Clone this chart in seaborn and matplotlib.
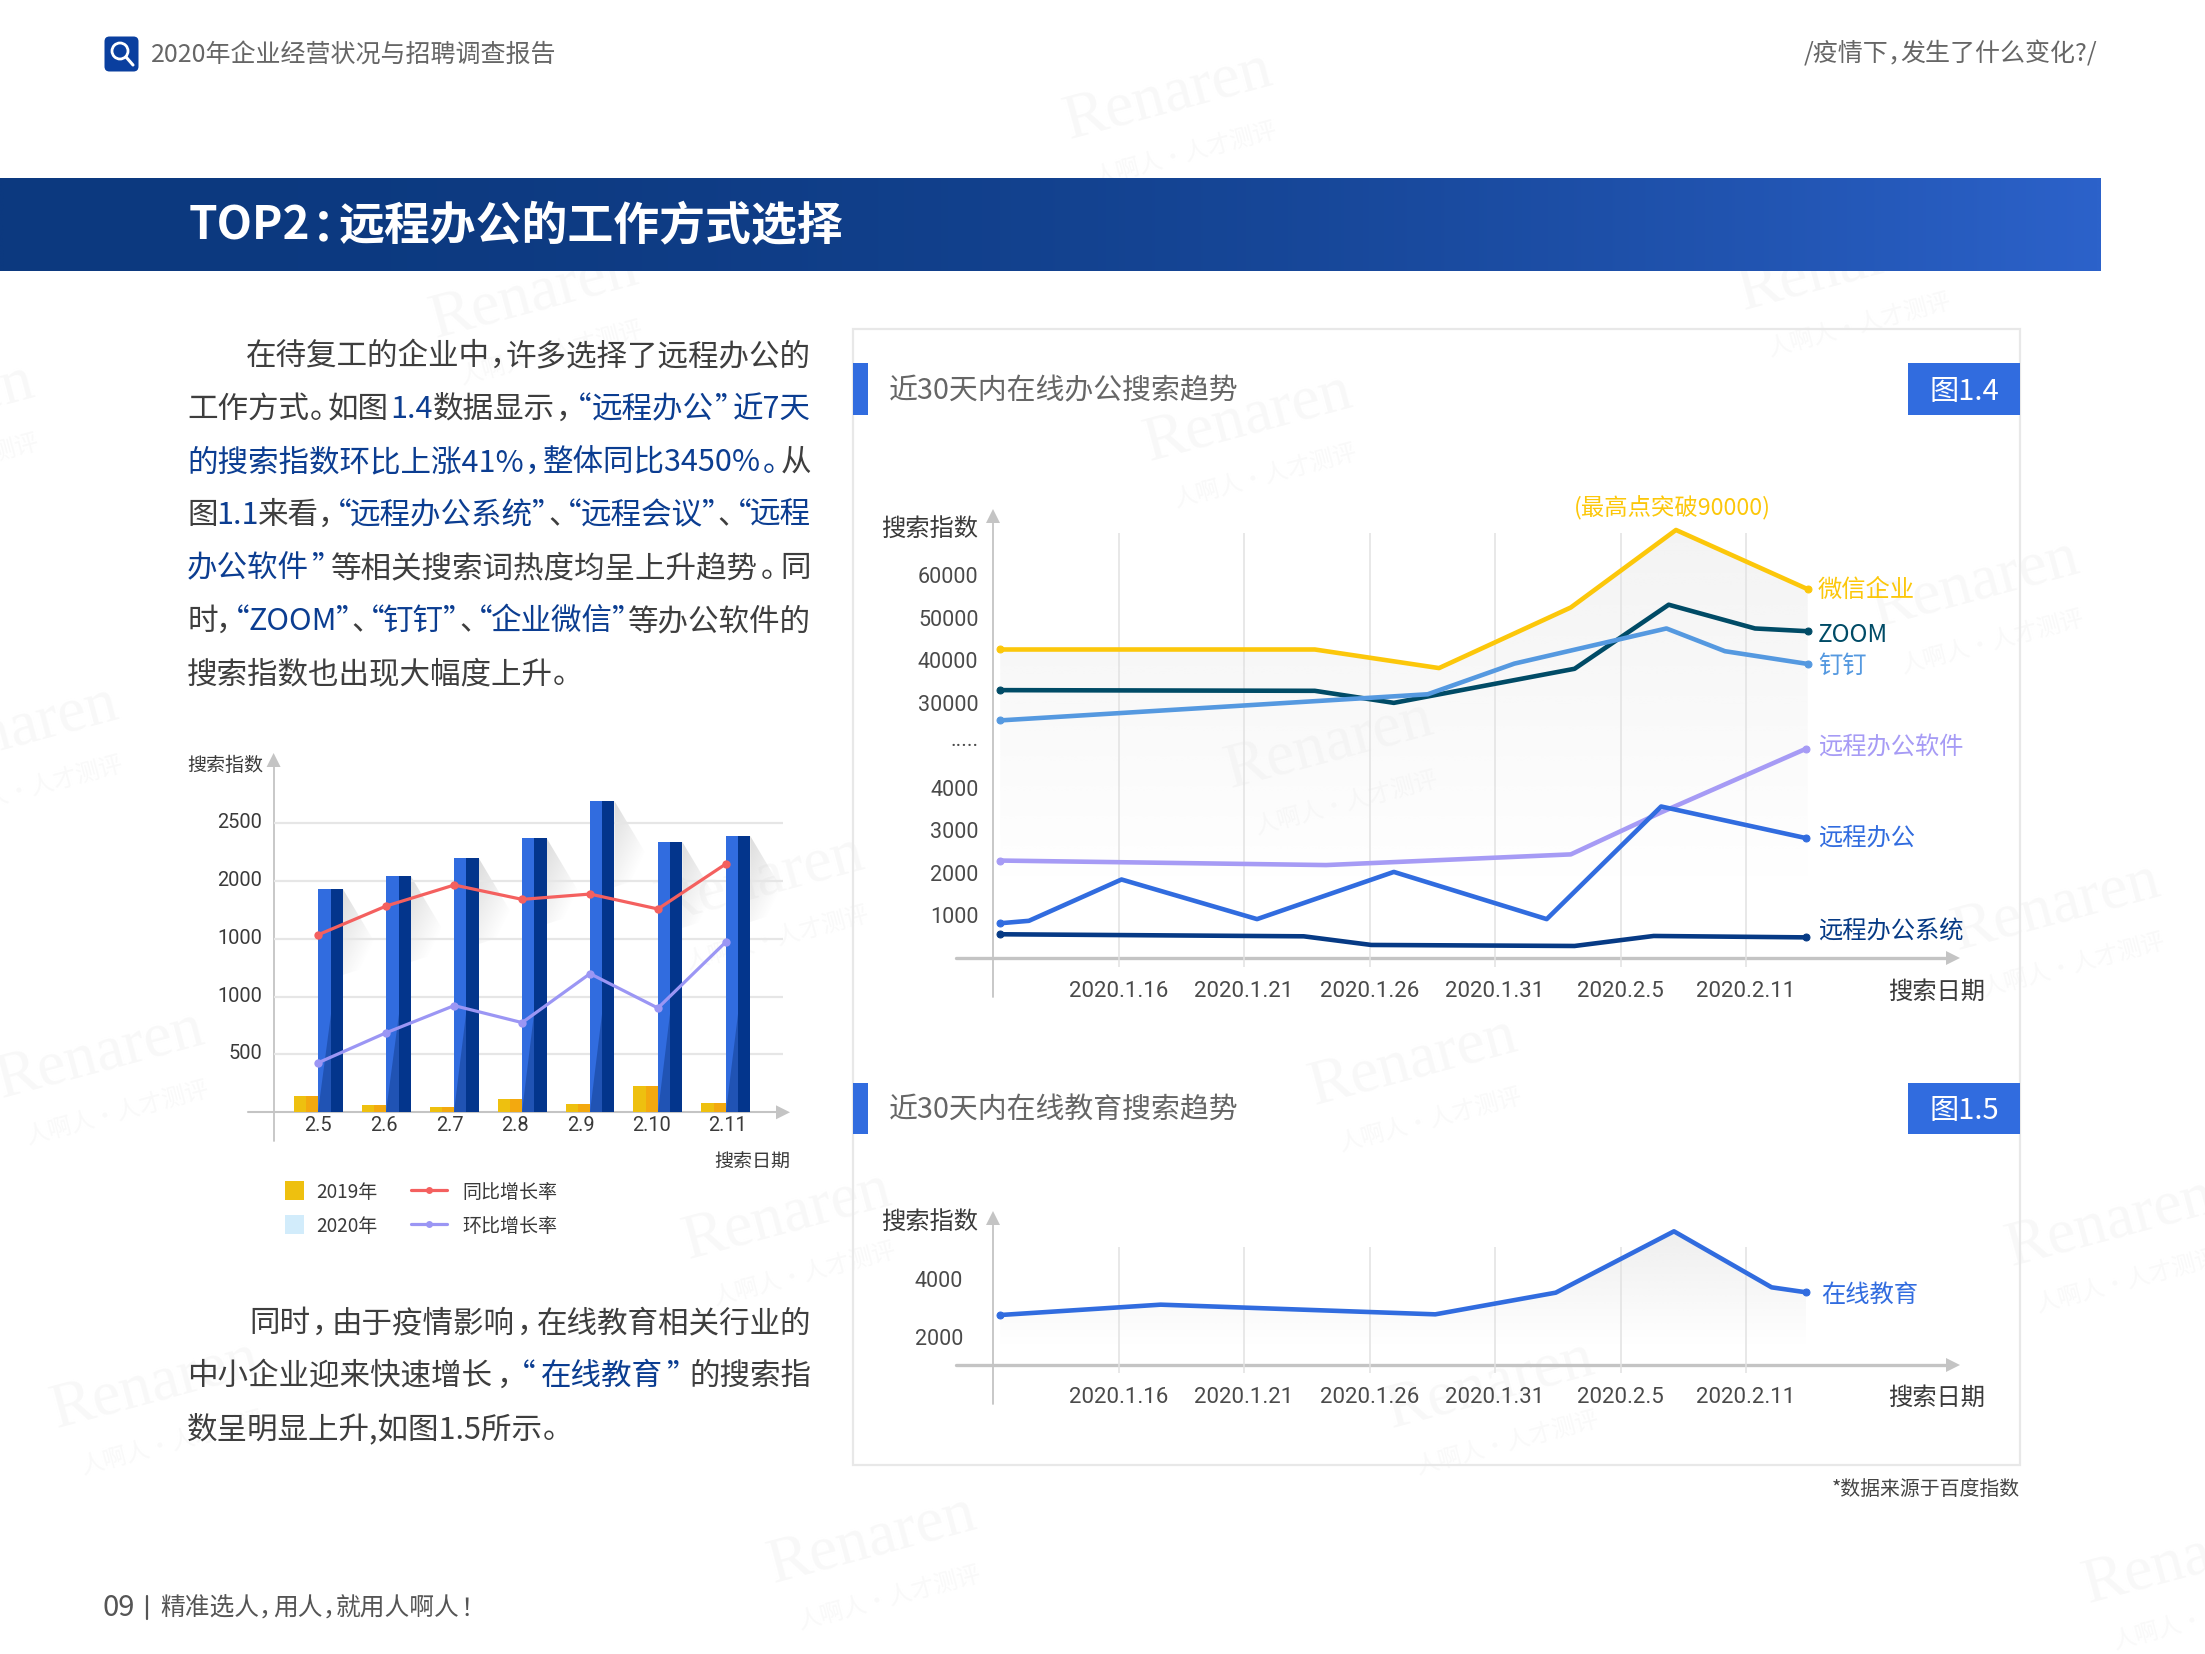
import re
import numpy as np
import pandas as pd
import matplotlib
matplotlib.use("Agg")
import matplotlib.pyplot as plt
from matplotlib.patches import Rectangle, Polygon, Circle, FancyBboxPatch
from matplotlib.colors import to_rgb
from matplotlib.transforms import ScaledTranslation
import seaborn as sns

sns.set_theme(style="white")
plt.rcParams['font.family'] = ['Noto Sans CJK SC', 'DejaVu Sans']
plt.rcParams['axes.unicode_minus'] = False

# ---------- data ----------
bar_dates = ["2.5", "2.6", "2.7", "2.8", "2.9", "2.10", "2.11"]
bar_2019 = [141, 63, 46, 115, 72, 227, 81]
bar_2020 = [1930, 2042, 2197, 2370, 2690, 2336, 2388]
yoy_line = [1535, 1783, 1964, 1840, 1886, 1757, 2146]
mom_line = [429, 688, 922, 775, 1198, 901, 1472]
bar_yticks = [500, 1000, 1500, 2000, 2500]
bar_ylabels = ["500", "1000", "1000", "2000", "2500"]
bar_xtick_pos = [0, 0.97, 1.94, 2.90, 3.86, 4.91, 6.02]

trend_ticks = [16, 21, 26, 31, 36, 41]
trend_labels = ["2020.1.16", "2020.1.21", "2020.1.26", "2020.1.31", "2020.2.5", "2020.2.11"]

wechat_x = [11.29, 23.82, 28.77, 34.02, 38.21, 43.46]
wechat_y = [42490, 42490, 38120, 52360, 70570, 56650]
zoom_x = [11.29, 23.82, 26.97, 34.17, 37.92, 41.36, 43.46]
zoom_y = [32940, 32780, 29935, 37960, 53010, 47430, 46780]
ding_x = [11.29, 28.32, 31.77, 37.83, 40.16, 43.46]
ding_y = [24580, 31970, 39170, 47430, 42090, 39090]
soft_x = [11.29, 24.27, 34.02, 37.62, 43.40]
soft_y = [2290, 2184, 2435, 3422, 15950]
remote_x = [11.29, 12.43, 16.12, 21.52, 26.97, 33.06, 37.62, 43.40]
remote_y = [817, 874, 1845, 914, 2023, 914, 3560, 2816]
system_x = [11.29, 23.38, 26.07, 34.17, 37.32, 43.40]
system_y = [558, 510, 307, 283, 518, 485]
office_yticks = [1000, 2000, 3000, 4000, 17000, 30000, 40000, 50000, 60000]
office_ylabels = ["1000", "2000", "3000", "4000", ".....", "30000", "40000", "50000", "60000"]

edu_x = [11.29, 17.68, 28.62, 33.42, 38.13, 42.02, 43.40]
edu_y = [2761, 3114, 2784, 3523, 5614, 3705, 3534]
edu_yticks = [2000, 4000]

scale_vals = [0, 4000, 30000, 60000, 90000]
scale_pos = [0, 4, 6, 9, 12]

para1 = [
    [("在待复工的企业中，许多选择了远程办公的", "k")],
    [("工作方式。如图", "k"), ("1.4", "b"), ("数据显示，", "k"), ("“远程办公”近7天", "b")],
    [("的搜索指数环比上涨41%，整体同比3450%。", "b"), ("从", "k")],
    [("图", "k"), ("1.1", "b"), ("来看，", "k"), ("“远程办公系统”", "b"), ("、", "k"), ("“远程会议”", "b"), ("、", "k"), ("“远程", "b")],
    [("办公软件”", "b"), ("等相关搜索词热度均呈上升趋势。同", "k")],
    [("时，", "k"), ("“ZOOM”", "b"), ("、", "k"), ("“钉钉”", "b"), ("、", "k"), ("“企业微信”", "b"), ("等办公软件的", "k")],
    [("搜索指数也出现大幅度上升。", "k")],
]
para2 = [
    [("同时，由于疫情影响，在线教育相关行业的", "k")],
    [("中小企业迎来快速增长，", "k"), ("“在线教育”", "b"), ("的搜索指", "k")],
    [("数呈明显上升,如图1.5所示。", "k")],
]

# ---------- page ----------
W, H = 2205, 1654
fig = plt.figure(figsize=(W / 100, H / 100), dpi=100, facecolor="white")
page = fig.add_axes([0, 0, 1, 1], zorder=0)
page.set_xlim(0, W)
page.set_ylim(H, 0)
page.axis("off")
renderer = fig.canvas.get_renderer()

GREY = "#4a4a4a"
BLUE = "#316cdf"
NAVY = "#0b3d91"
AXC = "#c4c4c4"
NUM = "Roboto"


def panel_axes(x0, x1, y0, y1):
    a = fig.add_axes([x0 / W, 1 - y1 / H, (x1 - x0) / W, (y1 - y0) / H], zorder=2)
    a.patch.set_alpha(0)
    return a


def gradient(x0, x1, y0, y1, rgba, clip=None, zorder=1):
    im = page.imshow(rgba, extent=(x0, x1, y1, y0), aspect="auto", zorder=zorder,
                     interpolation="bilinear")
    if clip is not None:
        im.set_clip_path(Polygon(clip, closed=True, transform=page.transData))
    page.set_xlim(0, W)
    page.set_ylim(H, 0)
    return im


def vfade(color, a0, n=128):
    r, g, b = to_rgb(color)
    arr = np.ones((n, 2, 4))
    arr[..., 0], arr[..., 1], arr[..., 2] = r, g, b
    arr[..., 3] = np.linspace(a0, 0, n)[:, None]
    return arr


def txt(x, y, s, size, color=GREY, ha="left", va="center", **kw):
    return page.text(x, y + 2.5, s, fontsize=size, color=color, ha=ha, va=va, zorder=6, **kw)


def nudge(label, dy_px):
    label.set_transform(label.get_transform() + ScaledTranslation(0, dy_px / 100, fig.dpi_scale_trans))


NARROW = "，。、：“”！"


def run_line(x, base, runs, size, right=None, weight="normal", colors=None):
    """Draw one text line from coloured runs with compact CJK punctuation."""
    em = size / 0.72
    pieces = []
    for s, c in runs:
        for p in re.findall(f"[{NARROW}]|[^{NARROW}]+", s):
            pieces.append((p, c))
    prop = matplotlib.font_manager.FontProperties(family=plt.rcParams['font.family'],
                                                  size=size, weight=weight)
    widths = []
    for p, c in pieces:
        if p in NARROW:
            widths.append(0.56 * em)
        else:
            widths.append(renderer.get_text_width_height_descent(p, prop, False)[0])
    gap = 0
    if right is not None and len(pieces) > 1:
        gap = (right - x - sum(widths)) / (len(pieces) - 1)
    cx = x
    for (p, c), w in zip(pieces, widths):
        off = -0.44 * em if p == "“" else 0
        col = colors[c] if colors else c
        page.text(cx + off, base, p, fontsize=size, color=col, ha="left", va="baseline",
                  weight=weight, zorder=6)
        cx += w + gap


def arrows(xa, ytop, ybot, xl, xr, yb, lw_x, head=7):
    page.plot([xa, xa], [ytop + 10, ybot], color=AXC, lw=1.3, zorder=1.5)
    page.add_patch(Polygon([(xa - head, ytop + 14), (xa + head, ytop + 14), (xa, ytop)],
                           color=AXC, lw=0, zorder=1.5))
    page.plot([xl, xr], [yb, yb], color=AXC, lw=lw_x, zorder=1.5)
    page.add_patch(Polygon([(xr, yb - head), (xr, yb + head), (xr + 14, yb)],
                           color=AXC, lw=0, zorder=1.5))


# watermarks
wm_centres = [(1168, 96), (1248, 418), (1975, 584), (1329, 745), (2056, 907), (1413, 1062),
              (787, 1216), (2110, 1223), (155, 1385), (1490, 1385), (872, 1540), (2187, 1560),
              (100, 1055), (14, 730), (760, 880), (-70, 408), (534, 295), (1842, 267)]
for cx, cy in wm_centres:
    page.text(cx, cy, "Renaren", fontsize=46, family="Liberation Serif", color="#f8f8f8",
              rotation=15, ha="center", va="center", zorder=0.5)
    page.text(cx + 18, cy + 58, "人啊人·人才测评", fontsize=17, color="#f9f9f9",
              rotation=15, ha="center", va="center", zorder=0.5)

# header
page.add_patch(FancyBboxPatch((107, 39), 29, 30, boxstyle="round,pad=2.5,rounding_size=5",
                              fc="#0a3f9f", ec="none", zorder=3))
page.add_patch(Circle((120, 51), 8, fc="none", ec="white", lw=2, zorder=4))
page.plot([126, 133], [57, 65], color="white", lw=2.2, zorder=4)
txt(151, 52, "2020年企业经营状况与招聘调查报告", 18, "#666666")
run_line(1804, 61, [("/疫情下，发生了什么变化?/", "#666666")], 18, right=2097)

# banner
c0, c1 = np.array(to_rgb("#0c397f")), np.array(to_rgb("#2c62ca"))
ramp = np.linspace(0, 1, 256)[None, :, None] ** 2.2
gradient(0, 2101, 178, 270.7, c0 + (c1 - c0) * ramp, zorder=1)
run_line(189, 240, [("TOP2：远程办公的工作方式选择", "white")], 33, right=843, weight="bold")

# body text
body_colors = {"k": "#3e3e3e", "b": NAVY}
body_size = 22
for i, (base, line) in enumerate(zip([365, 418, 471, 524, 577, 630, 683], para1)):
    run_line(246 if i == 0 else 187, base, line, body_size,
             right=811 if i < 6 else None, colors=body_colors)
for i, (base, line) in enumerate(zip([1332, 1385, 1438], para2)):
    run_line(249 if i == 0 else 187, base, line, body_size,
             right=811 if i < 2 else None, colors=body_colors)

# footer
txt(103, 1606, "09", 21, "#555555")
page.plot([147, 147], [1596, 1619], color="#555555", lw=1.6, zorder=6)
run_line(160, 1616, [("精准选人，用人，就用人啊人！", "#555555")], 17.8)

# ---------- bar chart ----------
arrows(273.6, 753, 1141, 248, 776, 1112.3, 1.5)
bx = panel_axes(273.6, 782.8, 790, 1112.3)
df_bar = pd.DataFrame({
    "date": bar_dates * 2,
    "value": bar_2019 + bar_2020,
    "year": ["2019"] * len(bar_dates) + ["2020"] * len(bar_dates),
})
sns.barplot(data=df_bar, x="date", y="value", hue="year", hue_order=["2019", "2020"],
            palette={"2019": "#eec00f", "2020": BLUE}, width=0.72, gap=0, dodge=True,
            errorbar=None, legend=False, saturation=1, edgecolor="none", linewidth=0,
            ax=bx, zorder=3)
px_per_unit = 289.3 / 2500
bx.set_ylim(0, (1112.3 - 790) / px_per_unit)
bx.set_xlim(-0.66, -0.66 + (782.8 - 273.6) / 67.9)
bx.set_yticks(bar_yticks, bar_ylabels, family=NUM, fontsize=14.4, color="#3a3a3a")
bx.set_xticks(bar_xtick_pos, bar_dates, family=NUM, fontsize=14.4, color="#3a3a3a")
bx.tick_params(axis="y", length=0, pad=8.4)
bx.tick_params(axis="x", length=0, pad=3)
bx.set_xlabel("")
bx.set_ylabel("")
bx.grid(axis="y", color="#e6e6e6", lw=1.6)
bx.set_axisbelow(True)
sns.despine(ax=bx, left=True, bottom=True)
for lab in bx.get_yticklabels():
    nudge(lab, 2.5)
fig.canvas.draw()

WEDGE_TOP = 850  # height of the shaded wedge on each bar
for dark, cont in (("#f3a90f", bx.containers[0]), ("#03358c", bx.containers[1])):
    for bar in cont:
        x0, w, h = bar.get_x(), bar.get_width(), bar.get_height()
        bx.add_patch(Rectangle((x0 + w / 2, 0), w / 2, h, fc=dark, ec="none", zorder=3.1))
        if cont is bx.containers[1]:
            bx.add_patch(Polygon([(x0, 0), (x0 + w / 2, 0), (x0 + w / 2, WEDGE_TOP)],
                                 closed=True, fc="#2053b4", ec="none", zorder=3.2))
            tl = page.transData.inverted().transform(bx.transData.transform((x0 + w, h)))
            xr, yt = tl
            verts = [(xr, yt), (xr + 31, yt + 52), (xr + 31, yt + 76), (xr, yt + 86)]
            n = 64
            yy, xx = np.mgrid[0:1:n * 1j, 0:1:n * 1j]
            rgba = np.ones((n, n, 4))
            rgba[..., :3] = 0.62
            rgba[..., 3] = 0.36 * np.clip(1 - (0.75 * yy + 0.6 * xx), 0, 1)
            gradient(xr, xr + 34, yt, yt + 88, rgba, clip=verts, zorder=1.2)

xs = np.arange(len(bar_dates))
sns.lineplot(x=xs, y=yoy_line, color="#f4605f", lw=2.3, marker="o", ms=6, mec="none",
             estimator=None, sort=False, legend=False, ax=bx, zorder=5)
sns.lineplot(x=xs, y=mom_line, color="#9b96f4", lw=2.3, marker="o", ms=6, mec="none",
             estimator=None, sort=False, legend=False, ax=bx, zorder=5)
bx.set_xlabel("")
bx.set_ylabel("")

txt(187, 763, "搜索指数", 13.7, "#3a3a3a")
txt(714, 1160, "搜索日期", 13.7, "#3a3a3a")
page.add_patch(Rectangle((285, 1181), 19, 19, fc="#eec00f", ec="none", zorder=3))
page.add_patch(Rectangle((285, 1215), 19, 19, fc="#d2ecfb", ec="none", zorder=3))
txt(316, 1190, "2019年", 13.7, "#3a3a3a")
txt(316, 1224, "2020年", 13.7, "#3a3a3a")
for yy, col, lab in ((1190, "#f4605f", "同比增长率"), (1224, "#9b96f4", "环比增长率")):
    page.plot([411, 447], [yy, yy], color=col, lw=2.3, zorder=3)
    page.plot([429], [yy], "o", color=col, ms=5, mec="none", zorder=3)
    txt(462, yy, lab, 13.7, "#3a3a3a")

# ---------- right panel frame ----------
page.add_patch(Rectangle((853, 329), 1167, 1136, fc="none", ec="#e8e8e8", lw=1.6, zorder=1))
for (y0, y1), title, tag in (((363, 415), "近30天内在线办公搜索趋势", "图1.4"),
                             ((1083, 1134), "近30天内在线教育搜索趋势", "图1.5")):
    page.add_patch(Rectangle((853, y0), 15, y1 - y0, fc=BLUE, ec="none", zorder=2))
    page.add_patch(Rectangle((1908, y0), 112, y1 - y0, fc=BLUE, ec="none", zorder=2))
    txt(888.5, (y0 + y1) / 2, title, 20.8, "#666666")
    txt(1964, (y0 + y1) / 2, tag, 21, "white", ha="center")


def fwd(v):
    v = np.asarray(v, dtype=float)
    return np.where(v < 0, v / 1000, np.interp(v, scale_vals, scale_pos))


def inv(p):
    p = np.asarray(p, dtype=float)
    return np.where(p < 0, p * 1000, np.interp(p, scale_pos, scale_vals))


DAY_PER_PX = 5 / 125.5


def style_trend(ax, pad):
    ax.set_xlim(11, 11 + (ax.get_position().width * W) * DAY_PER_PX)
    ax.set_xticks(trend_ticks, trend_labels, family=NUM, fontsize=16, color=GREY)
    ax.grid(axis="x", color="#e2e2e2", lw=1.1)
    ax.grid(axis="y", visible=False)
    ax.set_axisbelow(True)
    ax.tick_params(axis="x", length=0, pad=10)
    ax.tick_params(axis="y", length=7.5, width=1.1, color="#dddddd", pad=pad)
    ax.set_xlabel("")
    ax.set_ylabel("")
    sns.despine(ax=ax, left=True, bottom=True)


def draw_series(ax, x, y, color):
    sns.lineplot(x=x, y=y, color=color, lw=3.3, marker="o", ms=5, mec=color, markevery=[0, -1],
                 estimator=None, sort=False, legend=False, clip_on=False, ax=ax, zorder=5)


def under_fill(ax, x, y, base_y, color, a0):
    pts = page.transData.inverted().transform(ax.transData.transform(np.column_stack([x, y])))
    verts = [(pts[0, 0], base_y)] + [tuple(p) for p in pts] + [(pts[-1, 0], base_y)]
    top = pts[:, 1].min()
    gradient(pts[0, 0], pts[-1, 0], top, base_y, vfade(color, a0), clip=verts, zorder=1.1)


# ---------- office trend ----------
arrows(993, 509, 996.5, 956, 1946, 958, 2.4)
ox = panel_axes(993, 1900, 533, 967)
for x, y, col in ((wechat_x, wechat_y, "#fcc70a"), (zoom_x, zoom_y, "#004b66"),
                  (ding_x, ding_y, "#5599e0"), (soft_x, soft_y, "#a69bf5"),
                  (remote_x, remote_y, BLUE), (system_x, system_y, "#063a85")):
    draw_series(ox, x, y, col)
ox.set_yscale("function", functions=(fwd, inv))
ox.set_ylim(-211, 69860)
ox.set_yticks(office_yticks, office_ylabels, family=NUM, fontsize=15.5, color=GREY)
ox.minorticks_off()
style_trend(ox, 3)
nudge(ox.get_yticklabels()[4], 7)
under_fill(ox, wechat_x, wechat_y, 880, "#e8e8e8", 0.5)

txt(881, 527, "搜索指数", 17.5, "#3a3a3a")
txt(1888, 989.5, "搜索日期", 17.5, "#3a3a3a")
txt(1672.5, 505.5, "(最高点突破90000)", 16.8, "#fcc70a", ha="center", weight="medium")
for y, s, col in ((587.4, "微信企业", "#fcc70a"), (632.5, "ZOOM", "#004b66"),
                  (663.5, "钉钉", "#5599e0"), (745, "远程办公软件", "#a69bf5"),
                  (834.7, "远程办公", BLUE), (928.7, "远程办公系统", "#063a85")):
    txt(1818, y, s, 17.5, col, weight="medium")

# ---------- education trend ----------
arrows(993, 1211, 1404, 956, 1946, 1365, 2.4)
ex = panel_axes(993, 1900, 1246.7, 1373.3)
draw_series(ex, edu_x, edu_y, BLUE)
ex.set_ylim(774, 5090)
ex.set_yticks(edu_yticks, [str(v) for v in edu_yticks], family=NUM, fontsize=15.5, color=GREY)
style_trend(ex, 14)
under_fill(ex, edu_x, edu_y, 1345, "#e4e4e4", 0.6)

txt(881, 1220, "搜索指数", 17.5, "#3a3a3a")
txt(1888, 1395.5, "搜索日期", 17.5, "#3a3a3a")
txt(1821, 1292, "在线教育", 17.5, BLUE, weight="medium")
txt(2020, 1487, "*数据来源于百度指数", 14.3, "#444444", ha="right")

fig.savefig("out.png", dpi=100, facecolor="white")
